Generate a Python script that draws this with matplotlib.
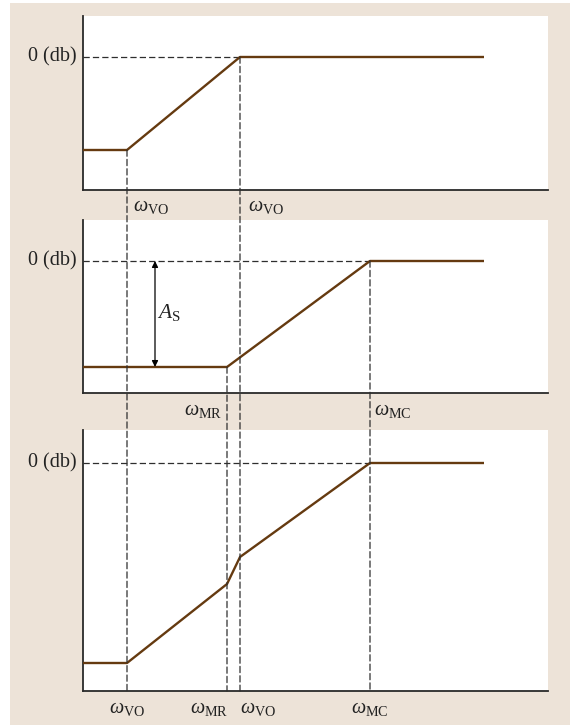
import matplotlib
matplotlib.use("Agg")
import matplotlib.pyplot as plt
from matplotlib.patches import Rectangle, ConnectionPatch, FancyArrowPatch

plt.rcParams["font.family"] = ["Liberation Serif", "DejaVu Serif"]
plt.rcParams["mathtext.fontset"] = "custom"
plt.rcParams["mathtext.rm"] = "Liberation Serif"
plt.rcParams["mathtext.it"] = "Liberation Serif:italic"

# Break frequencies (log-frequency axis, decades from the origin)
w_vo = 0.44
w_mr = 1.44
w_vo2 = 1.57
w_mc = 2.87
w_end = 4.01
x_max = 4.65

# Asymptotic gain curves (dB, arbitrary scale), one per panel
x_top = [0, w_vo, w_vo2, w_end]
g_top = [-9.3, -9.3, 0.0, 0.0]

x_mid = [0, w_mr, w_mc, w_end]
g_mid = [-10.6, -10.6, 0.0, 0.0]

x_bot = [0, w_vo, w_mr, w_vo2, w_mc, w_end]
g_bot = [-20.0, -20.0, -12.1, -9.4, 0.0, 0.0]

ylims = [(-13.3, 4.1), (-13.2, 4.1), (-22.8, 3.3)]

zero_label = "0 (db)"
lbl_vo = r"$\omega_{\mathrm{VO}}$"
lbl_mr = r"$\omega_{\mathrm{MR}}$"
lbl_mc = r"$\omega_{\mathrm{MC}}$"
lbl_as = r"$A_{\mathrm{S}}$"

W, H = 570, 726
fig = plt.figure(figsize=(W / 100, H / 100), dpi=100)
fig.patch.set_facecolor("white")

# beige panel background
fig.add_artist(Rectangle((10 / W, 1 - 725 / H), 560 / W, 722 / H,
                         transform=fig.transFigure, facecolor="#ede3d8",
                         edgecolor="none", zorder=-10))

def px_axes(top, bottom):
    return fig.add_axes([83 / W, 1 - bottom / H, 465 / W, (bottom - top) / H])

ax1 = px_axes(16, 190)
ax2 = px_axes(220, 393)
ax3 = px_axes(430, 691)
axes = [ax1, ax2, ax3]

curve_color = "#653a10"
dash_color = "#2e2e2e"
dash_kw = dict(color=dash_color, lw=0.9, linestyle=(0, (5, 2.5)))
text_color = "#222222"

for ax, yl in zip(axes, ylims):
    ax.set_xlim(0, x_max)
    ax.set_ylim(*yl)
    ax.set_facecolor("white")
    for s in ("top", "right"):
        ax.spines[s].set_visible(False)
    for s in ("left", "bottom"):
        ax.spines[s].set_color("#2a2a2a")
        ax.spines[s].set_linewidth(1.3)
    ax.set_xticks([])
    ax.set_yticks([])
    ax.text(-0.013, 0.0, zero_label, transform=ax.get_yaxis_transform(),
            ha="right", va="center", fontsize=14.5, color=text_color)

# 0 dB reference lines
ax1.plot([0, w_vo2], [0, 0], **dash_kw)
ax2.plot([0, w_mc], [0, 0], **dash_kw)
ax3.plot([0, w_mc], [0, 0], **dash_kw)

# gain curves
for ax, xs, gs in ((ax1, x_top, g_top), (ax2, x_mid, g_mid), (ax3, x_bot, g_bot)):
    ax.plot(xs, gs, color=curve_color, lw=1.7, solid_capstyle="butt", zorder=3)

# vertical guide lines running down through the panels
def guide(x, ax_from, y_from):
    cp = ConnectionPatch(xyA=(x, y_from), coordsA=ax_from.transData,
                         xyB=(x, ylims[2][0]), coordsB=ax3.transData,
                         arrowstyle="-", zorder=5, **dash_kw)
    fig.add_artist(cp)

guide(w_vo, ax1, g_top[1])
guide(w_vo2, ax1, 0.0)
guide(w_mr, ax2, g_mid[1])
guide(w_mc, ax2, 0.0)

# A_S arrow in the middle panel
ax2.add_patch(FancyArrowPatch((0.72, 0.0), (0.72, g_mid[1]), arrowstyle="<|-|>",
                              mutation_scale=9, color="black", lw=0.9,
                              shrinkA=0, shrinkB=0, zorder=4))
ax2.text(0.74, -5.2, lbl_as, ha="left", va="center", fontsize=15.5, color=text_color)

# frequency labels below each axis
def flabel(ax, x, text, ha, dx):
    ax.annotate(text, xy=(x, 0), xycoords=("data", "axes fraction"),
                xytext=(dx, -17), textcoords="offset pixels",
                ha=ha, va="center", fontsize=14.5, color=text_color,
                annotation_clip=False)

flabel(ax1, w_vo, lbl_vo, "left", 6)
flabel(ax1, w_vo2, lbl_vo, "left", 8)
flabel(ax2, w_mr, lbl_mr, "right", -5)
flabel(ax2, w_mc, lbl_mc, "left", 4)
flabel(ax3, w_vo, lbl_vo, "center", 0)
flabel(ax3, w_mr, lbl_mr, "right", 1)
flabel(ax3, w_vo2, lbl_vo, "left", 0)
flabel(ax3, w_mc, lbl_mc, "center", 0)

fig.savefig("out.png", dpi=100)
